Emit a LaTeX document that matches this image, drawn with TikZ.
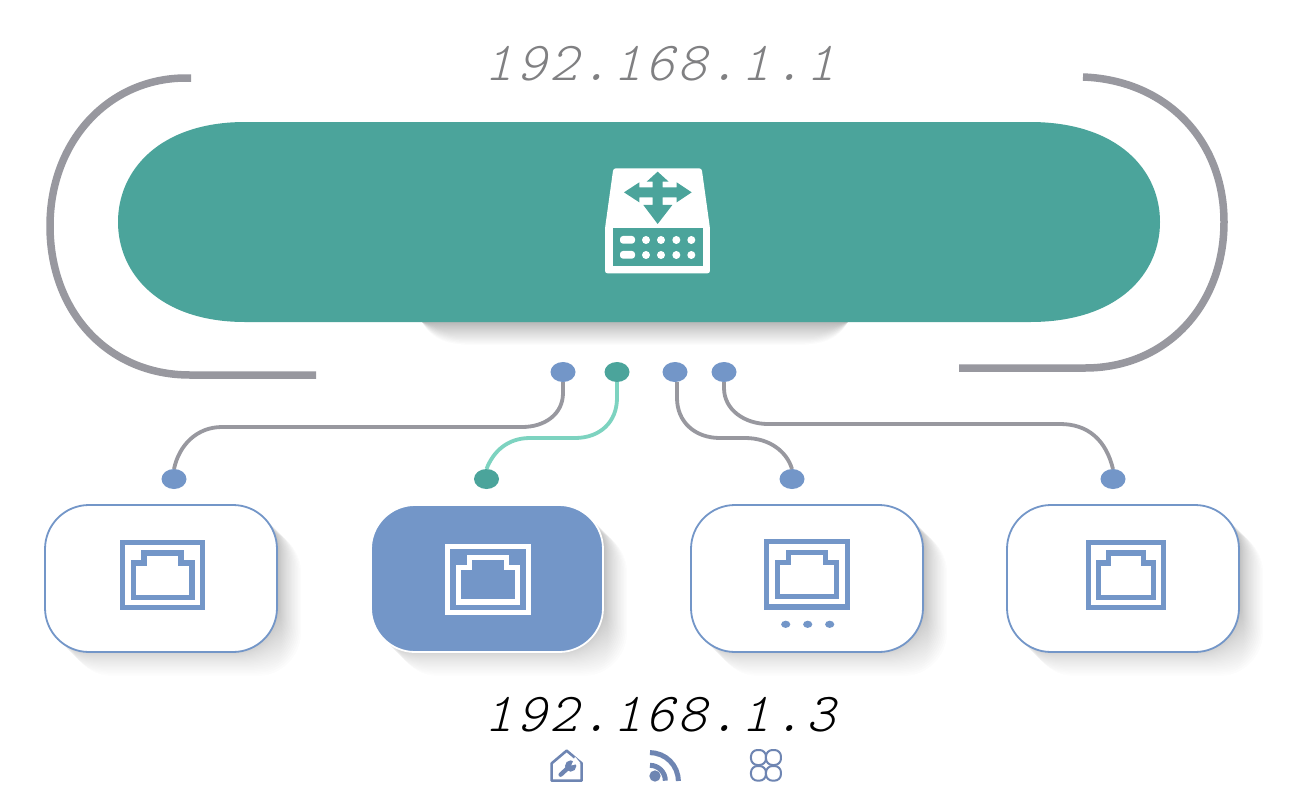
\documentclass[tikz,border=0pt]{standalone}
\usepackage{fontspec}
\newfontfamily\ipfont[ItalicFont={Latin Modern Mono Light},ItalicFeatures={FakeSlant=0.25,LetterSpace=5.9}]{Latin Modern Mono Light}
\definecolor{teal1}{HTML}{4BA49B}
\definecolor{mint}{HTML}{7DD3C0}
\definecolor{blue1}{HTML}{7396C8}
\definecolor{arcgray}{HTML}{98989F}
\definecolor{icon1}{HTML}{6E85B2}
\definecolor{shade}{HTML}{4A5568}
\definecolor{iptext}{HTML}{808082}
\usetikzlibrary{shapes.geometric}
\tikzset{
  card/.style={draw=blue1,line width=1.8pt,fill=white,rounded corners=44pt,minimum width=232pt,minimum height=147pt,outer sep=0pt,inner sep=0pt},
  dotb/.style={ellipse,fill=blue1,minimum width=25pt,minimum height=20pt,inner sep=0pt,outer sep=0pt},
  dott/.style={dotb,fill=teal1},
  wire/.style={arcgray,line width=3.8pt},
  wirem/.style={mint,line width=3.8pt},
  bigarc/.style={arcgray,line width=7.5pt},
  ip/.style={font=\ipfont\itshape\fontsize{55pt}{55pt}\selectfont,inner sep=0pt},
}
\newcommand{\cardshadow}[2]{%
  \foreach \i in {1,...,24}{%
    \pgfmathsetmacro{\k}{24*(\i/24)^1.6}%
    \fill[shade,opacity=0.0095,rounded corners=44pt] (#1-116+\k,#2-73.5+\k) rectangle (#1+116+\k,#2+73.5+\k);
  }}
\newcommand{\porticon}[5]{%
  \begin{scope}[shift={(#1,#2)},x=#3pt,y=-#4pt,#5,line width=5.2pt,miter limit=10]
    \draw (7,7) rectangle (249,203);
    \draw (40,172) -- (40,69) -- (72,69) -- (72,39) -- (184,39) -- (184,69) -- (217,69) -- (217,172) -- cycle;
  \end{scope}}
\begin{document}
\begin{tikzpicture}[x=1pt,y=-1pt]
\useasboundingbox (0,0) rectangle (1299,793);
\fill[white] (0,0) rectangle (1299,793);
% main pill shadow
\foreach \i in {1,...,22}{
  \pgfmathsetmacro{\bb}{322+23*(\i/22)^1.3}
  \fill[shade,opacity=0.012] (422,300) -- (422,322) .. controls (436,\bb) and (455,\bb) .. (490,\bb) -- (780,\bb) .. controls (815,\bb) and (834,\bb) .. (848,322) -- (848,300) -- cycle;
}
% brackets
\draw[bigarc] (191,78) -- (186,78) .. controls (108,78) and (50,142) .. (50,226) .. controls (50,312) and (108,375) .. (190,375) -- (316,375);
\draw[bigarc] (1083,77) .. controls (1166,80) and (1224,140) .. (1224,222) .. controls (1224,306) and (1166,368) .. (1085,368) -- (959,368);
% pill
\fill[teal1] (245,122) -- (1030,122) .. controls (1118,122) and (1160,170) .. (1160,222) .. controls (1160,274) and (1118,322) .. (1030,322) -- (245,322) .. controls (160,322) and (118,274) .. (118,222) .. controls (118,170) and (160,122) .. (245,122) -- cycle;
% router icon
\begin{scope}[shift={(580,150)},x=0.3333pt,y=-0.3333pt]
  \fill[white,rounded corners=2.5pt] (100,55) -- (365,55) -- (390,235) -- (390,370) -- (75,370) -- (75,235) -- cycle;
  \fill[teal1] (98,235) rectangle (368,347);
  \fill[teal1] (233,65) -- (266,95) -- (248,95) -- (248,112) -- (290,112) -- (290,97) -- (335,127) -- (290,157) -- (290,142) -- (248,142) -- (248,165) -- (277,165) -- (233,222) -- (190,165) -- (218,165) -- (218,142) -- (178,142) -- (178,157) -- (132,127) -- (178,97) -- (178,112) -- (218,112) -- (218,95) -- (200,95) -- cycle;
  \fill[white,rounded corners=3pt] (120,258) rectangle (165,281);
  \fill[white,rounded corners=3pt] (120,303) rectangle (165,326);
  \foreach \cx in {198,243,289,334}{
    \fill[white] (\cx,270) circle[radius=12];
    \fill[white] (\cx,315) circle[radius=12];
  }
\end{scope}
% card shadows
\cardshadow{161}{578.5}
\cardshadow{487}{578.5}
\cardshadow{807}{578.5}
\cardshadow{1123}{578.5}
% cards
\node[card] (c1) at (161,578.5) {};
\node[card,draw=white,fill=blue1] (c2) at (487,578.5) {};
\node[card] (c3) at (807,578.5) {};
\node[card] (c4) at (1123,578.5) {};
\porticon{120}{540}{0.332}{0.333}{blue1}
\porticon{445.3}{544.3}{0.334}{0.335}{white}
\porticon{764.3}{539.3}{0.3333}{0.3333}{blue1}
\porticon{1086}{540}{0.3125}{0.333}{blue1}
\foreach \dx in {785.7,807.7,829.7}{\fill[blue1] (\dx,624.3) ellipse[x radius=4.6,y radius=3.6];}
% dots
\node[dotb] (t1) at (563,372) {};
\node[dott] (t2) at (617,372) {};
\node[dotb] (t3) at (675,372) {};
\node[dotb] (t4) at (724,372) {};
\node[dotb] (b1) at (174,479) {};
\node[dott] (b2) at (486.5,479) {};
\node[dotb] (b3) at (792,479) {};
\node[dotb] (b4) at (1113,479) {};
% connectors
\draw[wire] (t1.south) -- (563,393) .. controls (563,414) and (545,427) .. (522,427) -- (222,427) .. controls (197,427) and (179,445) .. (b1.north);
\draw[wirem] (t2.south) -- (617,398) .. controls (617,422) and (600,438) .. (575,438) -- (530,438) .. controls (507,438) and (493,452) .. (b2.north);
\draw[wire] (t3.south) ++(2,0) -- (677,398) .. controls (677,422) and (695,438) .. (720,438) -- (745,438) .. controls (770,438) and (787,452) .. (b3.north);
\draw[wire] (t4.south) -- (724,388) .. controls (724,410) and (745,424) .. (768,424) -- (1060,424) .. controls (1088,424) and (1106,440) .. (b4.north);
% texts
\node[ip,text=iptext] (ip1) at (660,64) {192.168.1.1};
\node[ip,text=black] (ip3) at (660,715) {192.168.1.3};
% bottom icons
\begin{scope}[shift={(530,740)},x=0.3333pt,y=-0.3333pt]
  \draw[icon1,line width=2.6pt,line join=round] (65,122) -- (65,70) -- (110,32) -- (155,70) -- (155,122) -- cycle;
  \draw[icon1,line width=4.4pt,line cap=round] (92,104) -- (118,80);
  \fill[icon1] (122,78) circle[radius=17];
  \fill[white] (124,76) -- (135,50) -- (152,70) -- cycle;
  % wifi
  \fill[icon1] (375,108) circle[radius=17];
  \draw[icon1,line width=5pt] (360,38) arc[start angle=-90,end angle=0,radius=85];
  \draw[icon1,line width=5pt] (360,76) arc[start angle=-90,end angle=0,radius=46];
  % clover
  \begin{scope}[icon1,line width=2pt]
  \draw (708,55) [rounded corners=6.5pt] -- (708,30) -- (663,30) -- (663,75) -- (708,75) [sharp corners] -- cycle;
  \draw (708,55) [rounded corners=6.5pt] -- (708,30) -- (753,30) -- (753,75) -- (708,75) [sharp corners] -- cycle;
  \draw (708,100) [rounded corners=6.5pt] -- (708,122) -- (663,122) -- (663,78) -- (708,78) [sharp corners] -- cycle;
  \draw (708,100) [rounded corners=6.5pt] -- (708,122) -- (753,122) -- (753,78) -- (708,78) [sharp corners] -- cycle;
  \end{scope}
\end{scope}
\end{tikzpicture}
\end{document}
